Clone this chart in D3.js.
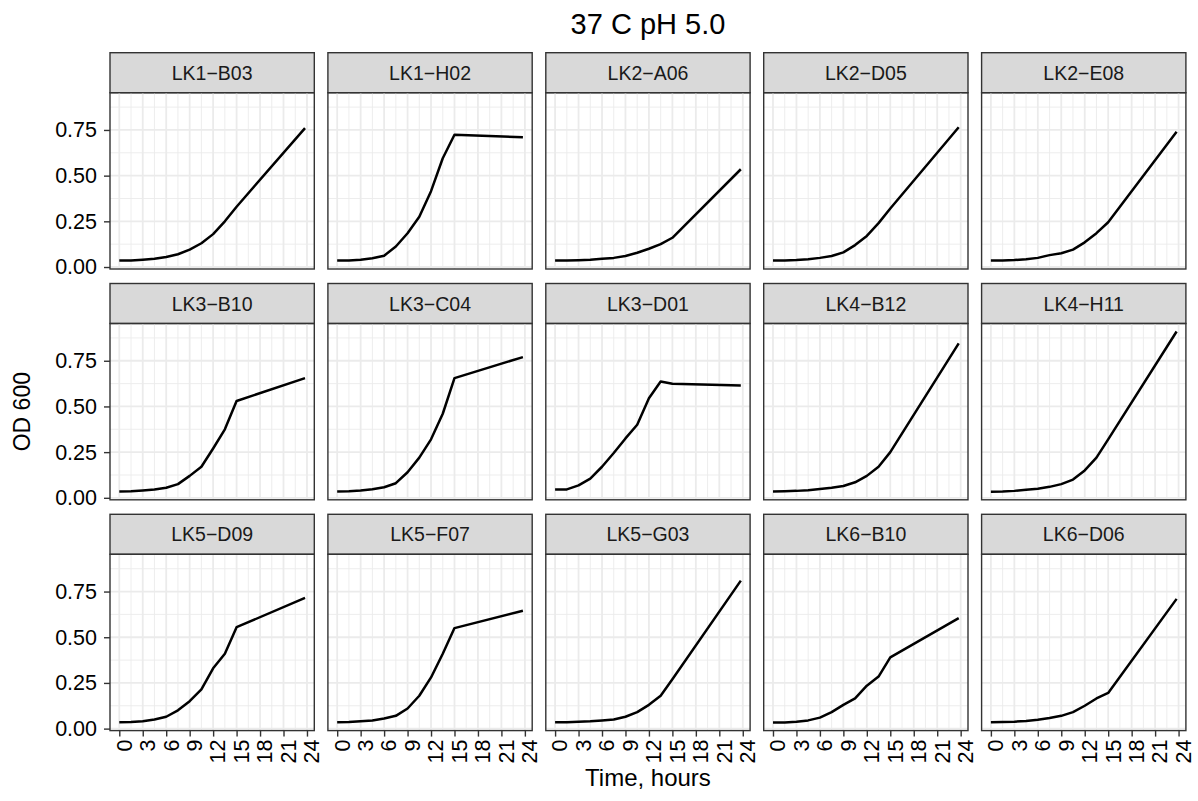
<!DOCTYPE html>
<html lang="en">
<head>
<meta charset="UTF-8">
<title>37 C pH 5.0</title>
<style>
  body { margin: 0; background: #fff; }
  svg text { font-family: "Liberation Sans", Arial, Helvetica, sans-serif; }
</style>
</head>
<body>
<div id="chart"></div>
<script src="https://cdn.jsdelivr.net/npm/d3@7"></script>
<script>
  // sampling times (hours) shared by every strain
  const hours = [0, 1.5, 3, 4.5, 6, 7.5, 9, 10.5, 12, 13.5, 15, 23.75];

  const strains = ["LK1-B03", "LK1-H02", "LK2-A06", "LK2-D05", "LK2-E08",
                   "LK3-B10", "LK3-C04", "LK3-D01", "LK4-B12", "LK4-H11",
                   "LK5-D09", "LK5-F07", "LK5-G03", "LK6-B10", "LK6-D06"];

  // OD 600 readings, one array per strain
  const lk1_b03 = [0.035, 0.036, 0.040, 0.045, 0.055, 0.070, 0.095, 0.130, 0.180, 0.250, 0.330, 0.760];
  const lk1_h02 = [0.035, 0.036, 0.040, 0.048, 0.062, 0.112, 0.185, 0.275, 0.415, 0.595, 0.724, 0.710];
  const lk2_a06 = [0.035, 0.035, 0.037, 0.040, 0.045, 0.050, 0.060, 0.078, 0.100, 0.125, 0.160, 0.535];
  const lk2_d05 = [0.035, 0.036, 0.038, 0.042, 0.050, 0.060, 0.080, 0.120, 0.170, 0.240, 0.320, 0.765];
  const lk2_e08 = [0.035, 0.036, 0.038, 0.042, 0.050, 0.065, 0.075, 0.095, 0.135, 0.185, 0.245, 0.740];
  const lk3_b10 = [0.035, 0.036, 0.040, 0.045, 0.055, 0.075, 0.120, 0.170, 0.270, 0.375, 0.530, 0.655];
  const lk3_c04 = [0.035, 0.036, 0.040, 0.047, 0.058, 0.080, 0.140, 0.220, 0.320, 0.460, 0.655, 0.770];
  const lk3_d01 = [0.045, 0.046, 0.068, 0.105, 0.170, 0.245, 0.325, 0.400, 0.545, 0.636, 0.624, 0.615];
  const lk4_b12 = [0.035, 0.036, 0.038, 0.042, 0.048, 0.055, 0.065, 0.085, 0.120, 0.170, 0.250, 0.845];
  const lk4_h11 = [0.033, 0.034, 0.038, 0.044, 0.050, 0.060, 0.075, 0.100, 0.150, 0.220, 0.320, 0.910];
  const lk5_d09 = [0.035, 0.036, 0.040, 0.050, 0.065, 0.100, 0.150, 0.215, 0.330, 0.410, 0.555, 0.715];
  const lk5_f07 = [0.035, 0.036, 0.040, 0.045, 0.055, 0.070, 0.110, 0.180, 0.280, 0.410, 0.550, 0.645];
  const lk5_g03 = [0.035, 0.035, 0.037, 0.040, 0.045, 0.050, 0.065, 0.090, 0.130, 0.180, 0.270, 0.810];
  const lk6_b10 = [0.033, 0.034, 0.037, 0.045, 0.060, 0.090, 0.130, 0.165, 0.235, 0.285, 0.390, 0.605];
  const lk6_d06 = [0.035, 0.036, 0.038, 0.042, 0.048, 0.058, 0.070, 0.090, 0.125, 0.165, 0.195, 0.710];

  const odValues = [lk1_b03, lk1_h02, lk2_a06, lk2_d05, lk2_e08,
                    lk3_b10, lk3_c04, lk3_d01, lk4_b12, lk4_h11,
                    lk5_d09, lk5_f07, lk5_g03, lk6_b10, lk6_d06];

  const xTicks = [0, 3, 6, 9, 12, 15, 18, 21, 24];
  const yTicks = [0, 0.25, 0.5, 0.75];

  const W = 1198, H = 801;
  const nCol = 5;
  const left0 = 110, top0 = 52.7;
  const colStep = 217.9, rowStep = 230.8;
  const panelW = 204.3, stripH = 40, panelH = 176.3;
  const ink = "#333333";

  const svg = d3.select("#chart").append("svg")
    .attr("width", W)
    .attr("height", H);

  // shared scales, with ggplot's 5% padding
  const allOd = odValues.flat();
  const xExt = d3.extent(hours), yExt = d3.extent(allOd);
  const xPad = (xExt[1] - xExt[0]) * 0.05, yPad = (yExt[1] - yExt[0]) * 0.05;

  const x = d3.scaleLinear()
    .domain([xExt[0] - xPad, xExt[1] + xPad])
    .range([0, panelW]);
  const y = d3.scaleLinear()
    .domain([yExt[0] - yPad, yExt[1] + yPad])
    .range([panelH, 0]);

  const xMinor = d3.range(1.5, 25, 3);
  const yMinor = [0.125, 0.375, 0.625, 0.875];

  const line = d3.line()
    .x(d => x(d[0]))
    .y(d => y(d[1]));

  strains.forEach((name, i) => {
    const col = i % nCol, row = Math.floor(i / nCol);
    const g = svg.append("g")
      .attr("transform", "translate(" + (left0 + col * colStep) + "," + (top0 + row * rowStep) + ")");

    // strip
    g.append("rect")
      .attr("width", panelW).attr("height", stripH)
      .attr("fill", "#d9d9d9").attr("stroke", ink).attr("stroke-width", 1.4);
    g.append("text")
      .attr("x", panelW / 2).attr("y", stripH / 2)
      .attr("dy", "0.36em")
      .attr("text-anchor", "middle")
      .attr("font-size", 19.5)
      .attr("fill", "#1a1a1a")
      .text(name.replace("-", "\u2212"));

    const p = g.append("g").attr("transform", "translate(0," + stripH + ")");

    // grid
    p.selectAll(".vmin").data(xMinor).join("line")
      .attr("x1", d => x(d)).attr("x2", d => x(d))
      .attr("y1", 0).attr("y2", panelH)
      .attr("stroke", "#ebebeb").attr("stroke-width", 0.9);
    p.selectAll(".hmin").data(yMinor).join("line")
      .attr("y1", d => y(d)).attr("y2", d => y(d))
      .attr("x1", 0).attr("x2", panelW)
      .attr("stroke", "#ebebeb").attr("stroke-width", 0.9);
    p.selectAll(".vmaj").data(xTicks).join("line")
      .attr("x1", d => x(d)).attr("x2", d => x(d))
      .attr("y1", 0).attr("y2", panelH)
      .attr("stroke", "#ebebeb").attr("stroke-width", 1.8);
    p.selectAll(".hmaj").data(yTicks).join("line")
      .attr("y1", d => y(d)).attr("y2", d => y(d))
      .attr("x1", 0).attr("x2", panelW)
      .attr("stroke", "#ebebeb").attr("stroke-width", 1.8);

    // growth curve
    p.append("path")
      .datum(hours.map((h, k) => [h, odValues[i][k]]))
      .attr("fill", "none")
      .attr("stroke", "#000")
      .attr("stroke-width", 2.5)
      .attr("stroke-linejoin", "round")
      .attr("d", line);

    p.append("rect")
      .attr("width", panelW).attr("height", panelH)
      .attr("fill", "none").attr("stroke", ink).attr("stroke-width", 1.4);

    // y axis on first column
    if (col === 0) {
      const ya = p.append("g")
        .call(d3.axisLeft(y).tickValues(yTicks).tickFormat(d3.format(".2f")).tickSize(6).tickPadding(7));
      ya.select(".domain").remove();
      ya.selectAll(".tick line").attr("stroke", ink).attr("stroke-width", 1.4);
      ya.selectAll(".tick text").attr("font-size", 21.5).attr("fill", "#000");
    }

    // x axis on bottom row
    if (row === 2) {
      const xa = p.append("g")
        .attr("transform", "translate(0," + panelH + ")")
        .call(d3.axisBottom(x).tickValues(xTicks).tickSize(6).tickPadding(3));
      xa.select(".domain").remove();
      xa.selectAll(".tick line").attr("stroke", ink).attr("stroke-width", 1.4);
      xa.selectAll(".tick text")
        .attr("font-size", 21.5).attr("fill", "#000")
        .attr("transform", "rotate(-90)")
        .attr("text-anchor", "end")
        .attr("x", -9).attr("y", 0)
        .attr("dy", "0.55em");
    }
  });

  const panelsLeft = left0, panelsRight = left0 + (nCol - 1) * colStep + panelW;

  svg.append("text")
    .attr("x", (panelsLeft + panelsRight) / 2).attr("y", 34)
    .attr("text-anchor", "middle")
    .attr("font-size", 29)
    .attr("fill", "#000")
    .text("37 C pH 5.0");

  svg.append("text")
    .attr("x", (panelsLeft + panelsRight) / 2).attr("y", 786)
    .attr("text-anchor", "middle")
    .attr("font-size", 24)
    .attr("fill", "#000")
    .text("Time, hours");

  svg.append("text")
    .attr("transform", "translate(30," + ((top0 + stripH + top0 + 2 * rowStep + stripH + panelH) / 2) + ") rotate(-90)")
    .attr("text-anchor", "middle")
    .attr("font-size", 23)
    .attr("fill", "#000")
    .text("OD 600");
</script>
</body>
</html>
